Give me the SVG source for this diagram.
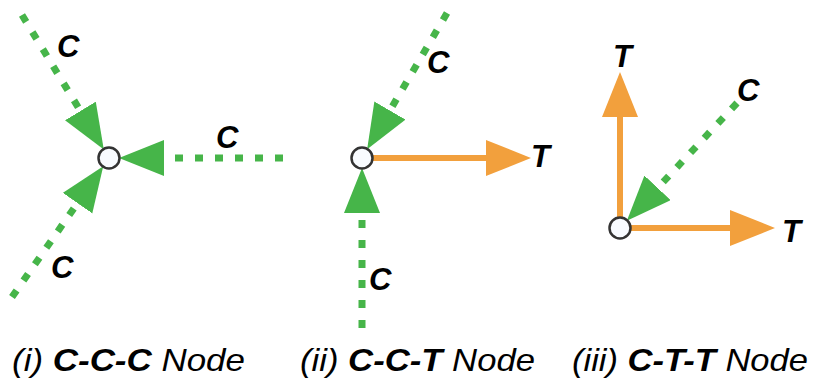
<svg xmlns="http://www.w3.org/2000/svg" width="815" height="383" viewBox="0 0 815 383">
<style>
.c{fill:none;stroke:#46b549;stroke-width:7;stroke-dasharray:8 12}
.t{fill:none;stroke:#f2a03d;stroke-width:6}
.n{fill:#f8fbff;stroke:#333;stroke-width:2.5}
.lb{font-family:"Liberation Sans",Arial,sans-serif;font-weight:bold;font-style:italic;font-size:31px;fill:#000}
.cap{font-family:"Liberation Sans",Arial,sans-serif;font-style:italic;font-size:32px;fill:#000}
.b{font-weight:bold}
</style>
<defs>
<marker id="ag" markerUnits="userSpaceOnUse" markerWidth="46" markerHeight="37" refX="0" refY="18" orient="auto"><path d="M0,0 L45,18 L0,36 z" fill="#46b549"/></marker>
<marker id="ao" markerUnits="userSpaceOnUse" markerWidth="46" markerHeight="37" refX="0" refY="18" orient="auto"><path d="M0,0 L45,18 L0,36 z" fill="#f2a03d"/></marker>
</defs>
<g id="connectors">
<path class="c" d="M22,15 L80.4,111" marker-end="url(#ag)"/>
<path class="c" d="M12,297 L77.5,203.1" marker-end="url(#ag)"/>
<path class="c" d="M283,158 L164,158" marker-end="url(#ag)"/>
<path class="c" d="M447,13 L389.9,110.5" marker-end="url(#ag)"/>
<path class="c" d="M362,328 L362,213" marker-end="url(#ag)"/>
<path class="t" d="M373,158 L486,158" marker-end="url(#ao)"/>
<path class="t" d="M620,217 L620,117" marker-end="url(#ao)"/>
<path class="t" d="M631,228 L730,228" marker-end="url(#ao)"/>
<path class="c" d="M737,103 L657.6,187.9" marker-end="url(#ag)"/>
</g>
<g id="node1"><circle class="n" cx="109" cy="158" r="10.5"/></g>
<g id="node2"><circle class="n" cx="362" cy="158" r="10.5"/></g>
<g id="node3"><circle class="n" cx="620" cy="228" r="10.5"/></g>
<g id="labels">
<text class="lb" x="57" y="57">C</text>
<text class="lb" x="216" y="148">C</text>
<text class="lb" x="51" y="278">C</text>
<text class="lb" x="427" y="73">C</text>
<text class="lb" x="531" y="167">T</text>
<text class="lb" x="369" y="290">C</text>
<text class="lb" x="613" y="67">T</text>
<text class="lb" x="737" y="101">C</text>
<text class="lb" x="782" y="242">T</text>
</g>
<g id="captions">
<text class="cap" x="12" y="371" textLength="233" lengthAdjust="spacingAndGlyphs">(i) <tspan class="b">C-C-C</tspan> Node</text>
<text class="cap" x="300" y="371" textLength="235" lengthAdjust="spacingAndGlyphs">(ii) <tspan class="b">C-C-T</tspan> Node</text>
<text class="cap" x="572" y="371" textLength="236" lengthAdjust="spacingAndGlyphs">(iii) <tspan class="b">C-T-T</tspan> Node</text>
</g>
</svg>
